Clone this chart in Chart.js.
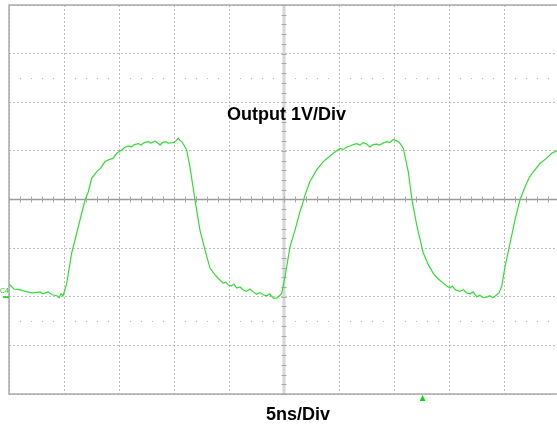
<!DOCTYPE html>
<html>
<head>
<meta charset="utf-8">
<script src="https://cdn.jsdelivr.net/npm/chart.js@4.4.1/dist/chart.umd.min.js"></script>
<style>
    body { margin: 0; background: #fff; overflow: hidden; width: 557px; height: 425px; }
    #wrap { position: relative; width: 562px; height: 425px; }
    .lbl { position: absolute; font-family: "Liberation Sans", Arial, sans-serif; font-weight: bold; font-size: 18px; line-height: 18px; color: #000; white-space: nowrap; }
    #c4 { position: absolute; left: 0px; top: 287px; font-family: "Liberation Sans", Arial, sans-serif; font-size: 7px; line-height: 7px; color: #22cc22; }
</style>
</head>
<body>
<div id="wrap">
    <canvas id="scope" width="562" height="425"></canvas>
    <div class="lbl" id="title" style="left:227px; top:105px;">Output 1V/Div</div>
    <div class="lbl" id="xlabel" style="left:266px; top:405px;">5ns/Div</div>
    <div id="c4">C4</div>
</div>
<script>
// temps en ns (5 ns/div, 10 div) et tension en V (1 V/div, 8 div)
const timeNs = [
    0, 0.27, 0.45, 1.0, 1.64, 2.18, 2.82, 3.09, 3.55, 3.91, 4.36, 4.55, 4.73, 4.91, 5.0,
    5.25, 5.70, 6.30, 6.91, 7.21, 7.52, 7.97, 8.35, 8.73, 9.1, 9.48, 9.79, 10.25,
    10.5, 10.85, 11.1, 11.4, 11.75, 12.0, 12.3, 12.66, 12.9, 13.27, 13.5, 13.73, 13.95, 14.18, 14.5, 14.94, 15.15, 15.39, 15.55, 15.70, 15.9,
    16.15, 16.45, 16.91, 17.06, 17.36, 17.82, 18.27, 18.73, 19.1,
    19.48, 19.7, 19.94, 20.2, 20.45, 20.70, 21.0, 21.3, 21.61, 21.9, 22.2, 22.52, 22.8, 23.1, 23.43, 23.7, 24.03, 24.34, 24.55, 24.79,
    25.09, 25.55, 26.0, 26.45, 26.61, 26.91, 27.36, 27.97, 28.57, 29.0, 29.48,
    30.09, 30.4, 30.70, 31.0, 31.3, 31.61, 31.9, 32.21, 32.5, 32.82, 33.1, 33.43, 33.7, 34.0, 34.34, 34.6, 34.94, 35.15, 35.39, 35.6,
    35.85, 36.30, 36.61, 37.06, 37.66, 38.12, 38.57, 39.0,
    39.48, 39.8, 40.09, 40.3, 40.6, 41.0, 41.3, 41.6, 41.91, 42.2, 42.52, 42.8, 43.1, 43.43, 43.7, 44.0, 44.34, 44.55, 44.79,
    45.09, 45.55, 46.0, 46.45, 46.91, 47.3, 47.66, 48.27, 48.88, 49.34, 49.79, 50
]
const voltage = [
    -1.735, -1.80, -1.84, -1.86, -1.90, -1.92, -1.90, -1.94, -1.90, -1.96, -1.98, -2.02, -1.94, -1.98, -1.92,
    -1.72, -1.10, -0.56, -0.01, 0.16, 0.44, 0.57, 0.65, 0.78, 0.82, 0.85, 0.95, 1.02,
    1.07, 1.10, 1.08, 1.13, 1.15, 1.12, 1.17, 1.19, 1.16, 1.20, 1.17, 1.12, 1.17, 1.19, 1.16, 1.17, 1.20, 1.26, 1.21, 1.19, 1.12,
    1.02, 0.67, -0.01, -0.22, -0.63, -1.04, -1.41, -1.55, -1.64,
    -1.72, -1.70, -1.76, -1.78, -1.74, -1.82, -1.80, -1.86, -1.89, -1.84, -1.90, -1.95, -1.91, -1.96, -1.98, -1.94, -2.03, -2.03, -1.99, -1.93,
    -1.59, -0.97, -0.63, -0.25, -0.15, 0.09, 0.37, 0.61, 0.78, 0.86, 0.95,
    1.05, 1.03, 1.08, 1.10, 1.13, 1.15, 1.12, 1.17, 1.14, 1.08, 1.13, 1.14, 1.12, 1.16, 1.19, 1.17, 1.24, 1.21, 1.19, 1.14,
    1.05, 0.57, 0.03, -0.52, -1.10, -1.34, -1.52, -1.63,
    -1.72, -1.78, -1.82, -1.78, -1.86, -1.89, -1.85, -1.92, -1.94, -1.90, -2.00, -1.97, -2.02, -2.01, -1.98, -2.02, -1.96, -1.92, -1.79,
    -1.38, -0.90, -0.42, -0.01, 0.26, 0.45, 0.57, 0.74, 0.85, 0.95, 1.00, 1.01
]
const xRange = [0, 50]
const yRange = [-4, 4]
const xStep = 5
const yStep = 1
const triggerNs = 37.6

const traceColor = '#33dd33'

const scopePlugin = {
    id: 'scopeDecor',
    beforeDatasetsDraw(chart) {
        const { ctx, chartArea: a, scales: { x, y } } = chart
        const cx = x.getPixelForValue(25)
        const cy = y.getPixelForValue(0)
        ctx.save()

        // rangées de points à +/-2.5 div
        ctx.fillStyle = '#b4b4b4'
        for (const v of [2.5, -2.5]) {
            const py = Math.round(y.getPixelForValue(v))
            for (let t = 1; t < 50; t++) {
                if (t % 5 === 0) continue
                ctx.fillRect(Math.round(x.getPixelForValue(t)), py, 1, 1)
            }
        }

        // axe vertical central
        ctx.fillStyle = '#d6d6d6'
        ctx.fillRect(cx - 1.5, a.top, 3, a.bottom - a.top)
        ctx.strokeStyle = '#a8a8a8'
        ctx.lineWidth = 1
        for (let v = -4; v <= 4.001; v += 0.2) {
            const py = Math.round(y.getPixelForValue(v)) + 0.5
            ctx.beginPath()
            ctx.moveTo(cx - 2.5, py)
            ctx.lineTo(cx + 2.5, py)
            ctx.stroke()
        }

        // axe horizontal central
        ctx.strokeStyle = '#9a9a9a'
        ctx.lineWidth = 1.5
        ctx.beginPath()
        ctx.moveTo(a.left, cy)
        ctx.lineTo(a.right, cy)
        ctx.stroke()
        ctx.strokeStyle = '#a8a8a8'
        ctx.lineWidth = 1
        for (let t = 0; t <= 50; t++) {
            const px = Math.round(x.getPixelForValue(t)) + 0.5
            ctx.beginPath()
            ctx.moveTo(px, cy - 3)
            ctx.lineTo(px, cy + 3)
            ctx.stroke()
        }

        // cadre
        ctx.strokeStyle = '#ababab'
        ctx.lineWidth = 1.5
        ctx.strokeRect(a.left, a.top, a.right - a.left, a.bottom - a.top)

        // repère C4
        ctx.fillStyle = traceColor
        ctx.fillRect(3, Math.round(y.getPixelForValue(-2)) - 1, 6, 2)
        ctx.restore()
    },
    afterDraw(chart) {
        const { ctx, chartArea: a, scales: { x } } = chart
        const px = x.getPixelForValue(triggerNs)
        ctx.save()
        ctx.fillStyle = '#00dd00'
        ctx.beginPath()
        ctx.moveTo(px, a.bottom + 1)
        ctx.lineTo(px + 2.8, a.bottom + 7)
        ctx.lineTo(px - 2.8, a.bottom + 7)
        ctx.closePath()
        ctx.fill()
        ctx.restore()
    }
}

const points = timeNs.map((t, i) => ({ x: t, y: voltage[i] }))

const ctx = document.getElementById('scope').getContext('2d')
const scopeChart = new Chart(ctx, {
    type: 'line',
    data: {
        datasets: [{
            data: points,
            borderColor: traceColor,
            borderWidth: 1.2,
            pointRadius: 0,
            tension: 0,
            fill: false
        }]
    },
    options: {
        responsive: false,
        animation: false,
        events: [],
        layout: { padding: { left: 9, top: 5, right: 3, bottom: 31 } },
        plugins: {
            legend: { display: false },
            tooltip: { enabled: false }
        },
        scales: {
            x: {
                type: 'linear',
                min: xRange[0],
                max: xRange[1],
                ticks: { display: false, stepSize: xStep },
                grid: { color: '#bdbdbd', lineWidth: 1, drawTicks: false },
                border: { display: false, dash: [2, 2] }
            },
            y: {
                min: yRange[0],
                max: yRange[1],
                ticks: { display: false, stepSize: yStep },
                grid: { color: '#bdbdbd', lineWidth: 1, drawTicks: false },
                border: { display: false, dash: [2, 2] }
            }
        }
    },
    plugins: [scopePlugin]
})
</script>
</body>
</html>
